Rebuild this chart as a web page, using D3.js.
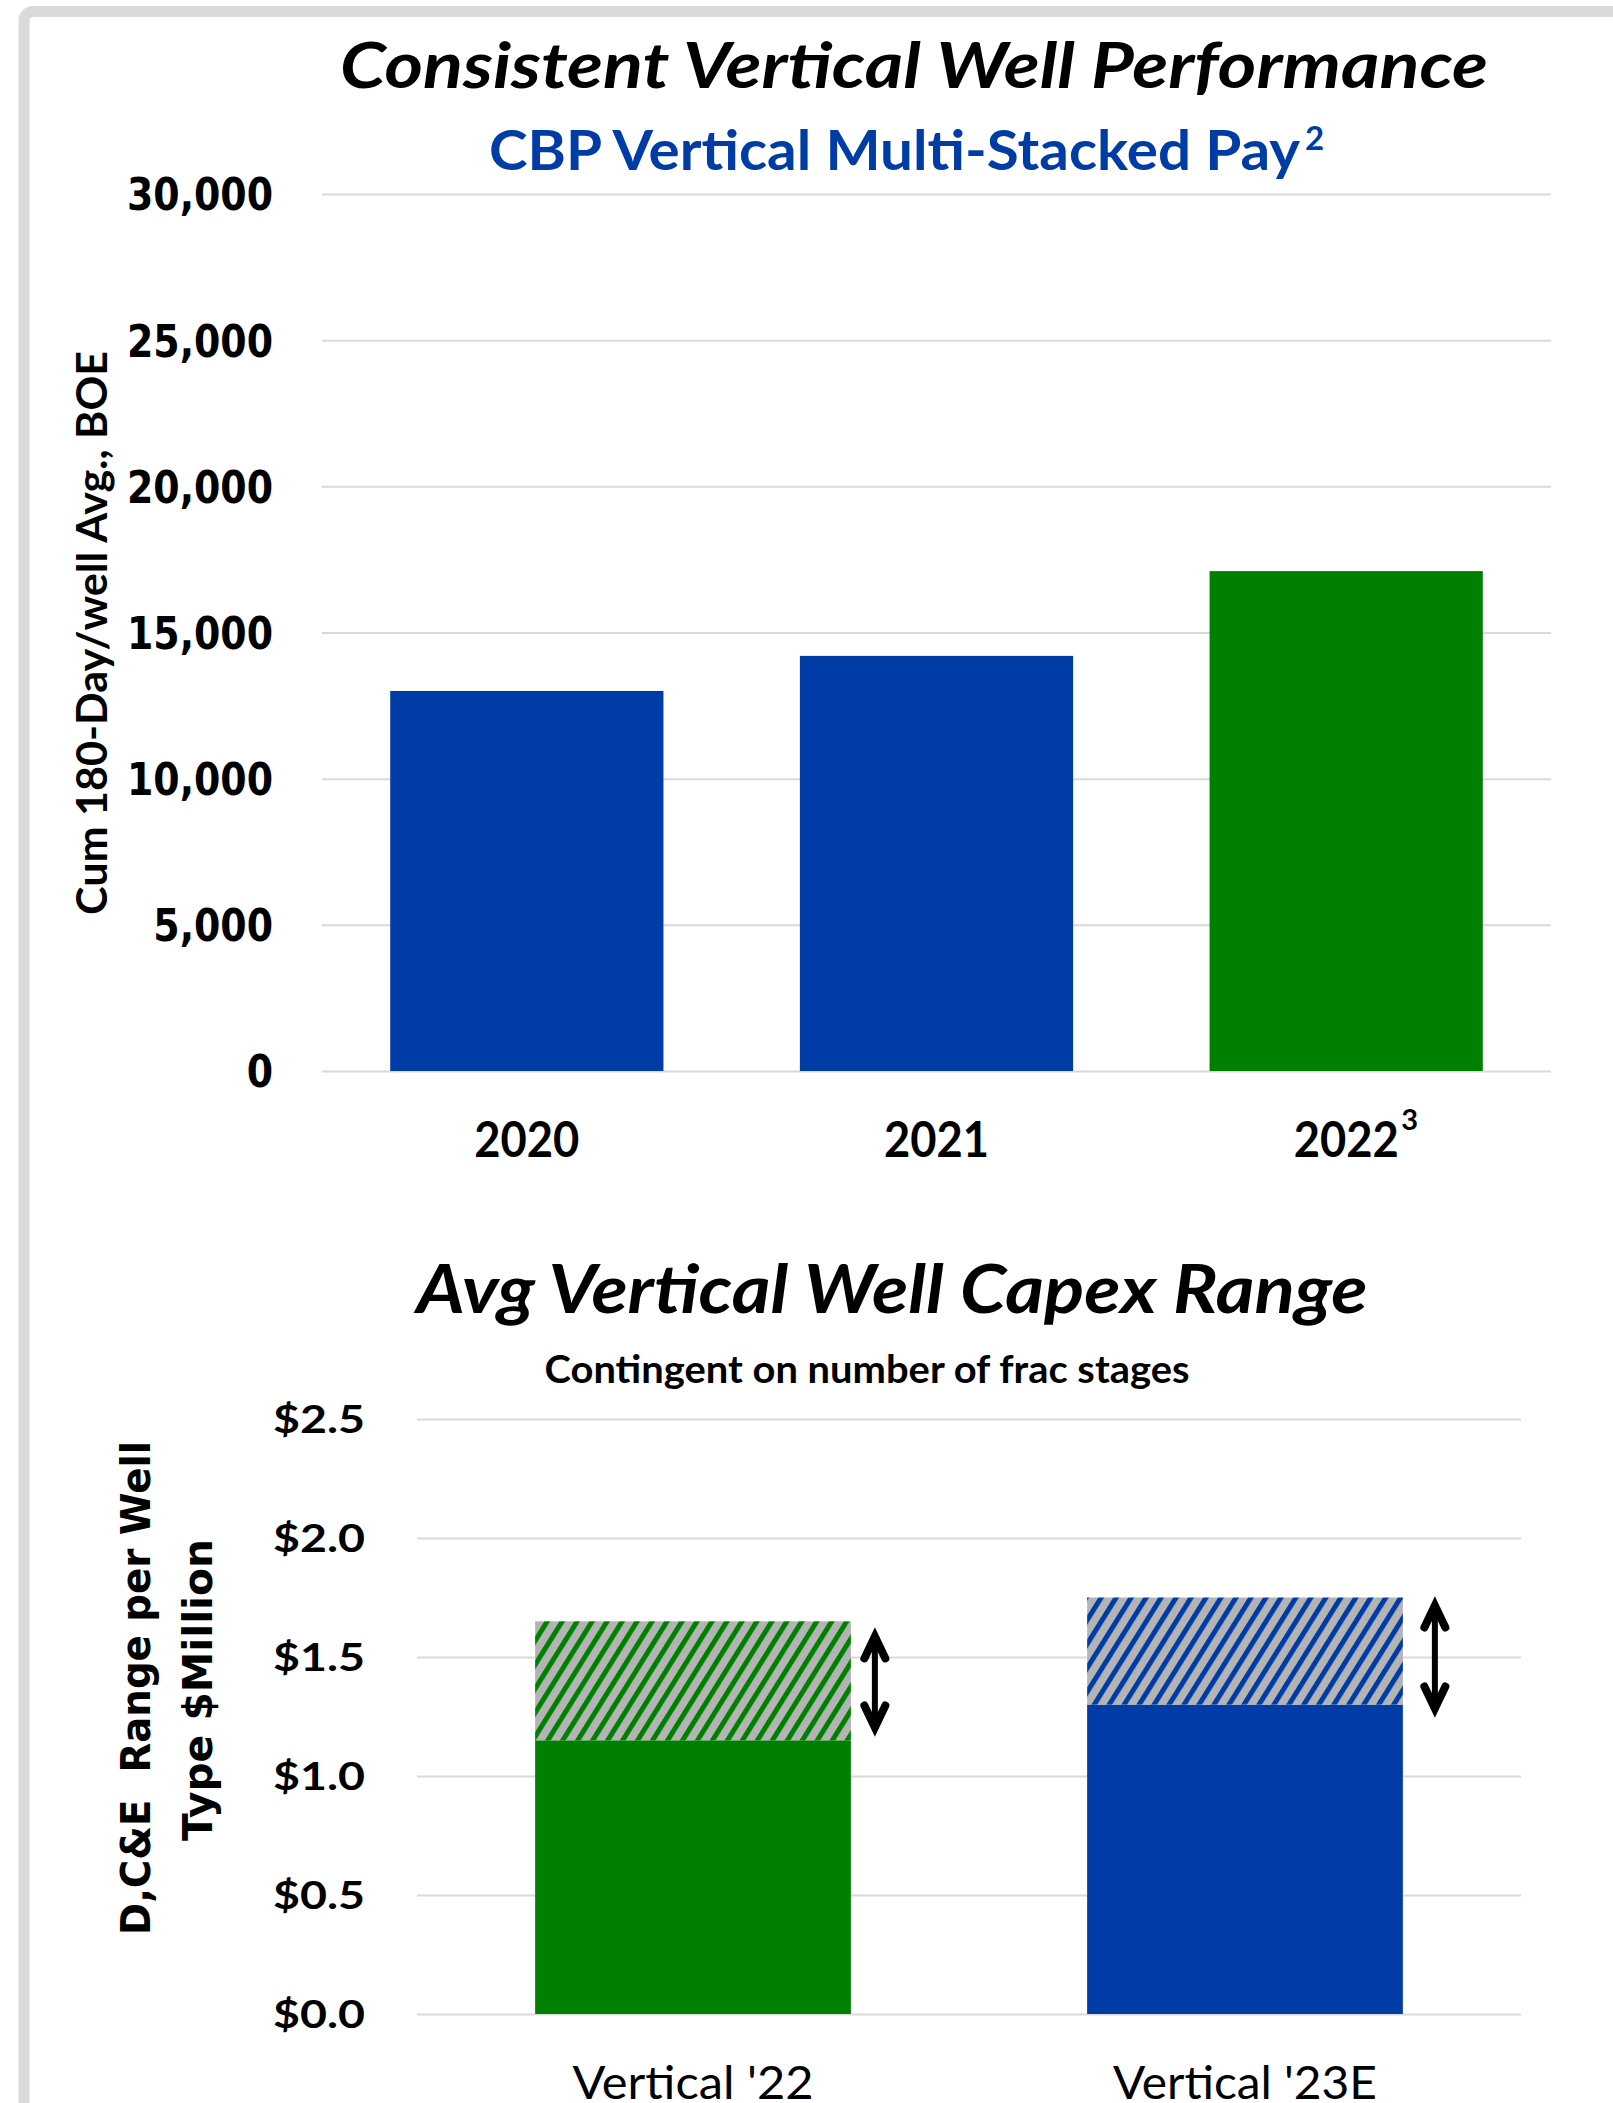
<!DOCTYPE html>
<html><head><meta charset="utf-8">
<script src="https://cdn.jsdelivr.net/npm/d3@7"></script>
<style>body{margin:0;background:#fff;} svg{display:block;} text{white-space:pre;}</style>
</head><body><svg id="c" width="1613" height="2103"></svg>
<script>
// ---- data ----
const years = ["2020", "2021", "2022"];
const yearSup = ["", "", "3"];
const boe = [13000, 14200, 17100];
const boeColors = ["#003CA6", "#003CA6", "#008000"];
const boeTicks = [0, 5000, 10000, 15000, 20000, 25000, 30000];

const wellTypes = ["Vertical '22", "Vertical '23E"];
const capexLow = [1.15, 1.30];
const capexHigh = [1.65, 1.75];
const capexColors = ["#008000", "#003CA6"];
const arrowTop = [1.62, 1.75];
const arrowBottom = [1.17, 1.25];
const capexTicks = [0, 0.5, 1.0, 1.5, 2.0, 2.5];

const BLUE = "#003CA6", GRID = "#d9d9d9", HATCH_BG = "#b4b4b4";
const CAL = "Lato, 'Open Sans', sans-serif";
const VER = "'DejaVu Sans', Verdana, sans-serif";

const svg = d3.select("#c");

// frame
svg.append("rect").attr("x", 24).attr("y", 11.5).attr("width", 1800).attr("height", 2300)
  .attr("rx", 9).attr("fill", "none").attr("stroke", "#dadada").attr("stroke-width", 11);

function fit(sel, w) { return sel.attr("textLength", w).attr("lengthAdjust", "spacingAndGlyphs"); }
function condense(sel, k) {
  sel.each(function () {
    const L = this.getComputedTextLength();
    d3.select(this).attr("textLength", L * k).attr("lengthAdjust", "spacingAndGlyphs");
  });
}

// ---- top chart ----
const x1 = d3.scaleBand().domain(years).range([322, 1551]).paddingInner(0.333).paddingOuter(0.1665);
const y1 = d3.scaleLinear().domain([0, 30000]).range([1071, 194]);

const g1 = svg.append("g");
const ax1 = g1.append("g").attr("transform", "translate(322,0)")
  .call(d3.axisLeft(y1).tickValues(boeTicks).tickSize(-(1551 - 322)).tickPadding(49).tickFormat(d3.format(",")));
ax1.select(".domain").remove();
ax1.selectAll(".tick line").attr("stroke", GRID).attr("stroke-width", 2);
ax1.selectAll(".tick text").attr("font-family", VER).attr("font-weight", "bold")
  .attr("font-size", 44).attr("fill", "#000").attr("dy", "0.36em").call(condense, 0.86);

g1.selectAll("rect.bar").data(years).join("rect").attr("class", "bar")
  .attr("x", d => x1(d)).attr("width", x1.bandwidth())
  .attr("y", (d, i) => y1(boe[i])).attr("height", (d, i) => y1(0) - y1(boe[i]))
  .attr("fill", (d, i) => boeColors[i]);

g1.selectAll("text.xl").data(years).join("text").attr("class", "xl")
  .attr("x", d => x1(d) + x1.bandwidth() / 2).attr("y", 1157)
  .attr("text-anchor", "middle").attr("font-family", CAL).attr("font-weight", "bold")
  .attr("font-size", 49).text(d => d).call(fit, 105);
g1.selectAll("text.xs").data(years.filter((d, i) => yearSup[i])).join("text").attr("class", "xs")
  .attr("x", d => x1(d) + x1.bandwidth() / 2 + 55).attr("y", 1130)
  .attr("font-family", CAL).attr("font-weight", "bold").attr("font-size", 29)
  .text(d => yearSup[years.indexOf(d)]);

svg.append("text").attr("transform", "translate(107,633) rotate(-90)")
  .attr("text-anchor", "middle").attr("font-family", CAL).attr("font-weight", "bold")
  .attr("font-size", 42).text("Cum 180-Day/well Avg., BOE").call(fit, 564);

svg.append("text").attr("x", 914).attr("y", 88).attr("text-anchor", "middle")
  .attr("font-family", CAL).attr("font-weight", "bold").attr("font-style", "italic")
  .attr("font-size", 64).text("Consistent Vertical Well Performance").call(fit, 1148);
svg.append("text").attr("x", 489).attr("y", 170)
  .attr("font-family", CAL).attr("font-weight", "bold").attr("fill", BLUE)
  .attr("font-size", 56).text("CBP Vertical Multi-Stacked Pay").call(fit, 811);
svg.append("text").attr("x", 1305).attr("y", 150)
  .attr("font-family", CAL).attr("font-weight", "bold").attr("fill", BLUE)
  .attr("font-size", 33).text("2");

// ---- bottom chart ----
const x2 = d3.scaleBand().domain(wellTypes).range([417, 1521]).paddingInner(0.428).paddingOuter(0.214);
const y2 = d3.scaleLinear().domain([0, 2.5]).range([2014, 1419]);

const defs = svg.append("defs");
capexColors.forEach((c, i) => {
  const p = defs.append("pattern").attr("id", "hatch" + i).attr("patternUnits", "userSpaceOnUse")
    .attr("width", 12.7).attr("height", 12.7).attr("patternTransform", "rotate(32)");
  p.append("rect").attr("width", 12.7).attr("height", 12.7).attr("fill", HATCH_BG);
  p.append("rect").attr("width", 5).attr("height", 12.7).attr("fill", c);
});

const g2 = svg.append("g");
const ax2 = g2.append("g").attr("transform", "translate(417,0)")
  .call(d3.axisLeft(y2).tickValues(capexTicks).tickSize(-(1521 - 417)).tickPadding(52)
    .tickFormat(d => "$" + d3.format(".1f")(d)));
ax2.select(".domain").remove();
ax2.selectAll(".tick line").attr("stroke", GRID).attr("stroke-width", 2);
ax2.selectAll(".tick text").attr("font-family", CAL).attr("font-weight", "bold")
  .attr("font-size", 38).attr("fill", "#000").attr("dy", "0.36em").call(fit, 92);

g2.selectAll("rect.low").data(wellTypes).join("rect").attr("class", "low")
  .attr("x", d => x2(d)).attr("width", x2.bandwidth())
  .attr("y", (d, i) => y2(capexLow[i])).attr("height", (d, i) => y2(0) - y2(capexLow[i]))
  .attr("fill", (d, i) => capexColors[i]);
g2.selectAll("rect.high").data(wellTypes).join("rect").attr("class", "high")
  .attr("x", d => x2(d)).attr("width", x2.bandwidth())
  .attr("y", (d, i) => y2(capexHigh[i])).attr("height", (d, i) => y2(capexLow[i]) - y2(capexHigh[i]))
  .attr("fill", (d, i) => `url(#hatch${i})`);

// arrows
const arrowOffset = [24, 32];
wellTypes.forEach((d, i) => {
  const ax = x2(d) + x2.bandwidth() + arrowOffset[i];
  const t = y2(arrowTop[i]), b = y2(arrowBottom[i]);
  const ga = g2.append("g").attr("transform", `translate(${ax},0)`);
  ga.append("line").attr("x1", 0).attr("x2", 0).attr("y1", t + 8).attr("y2", b - 8)
    .attr("stroke", "#000").attr("stroke-width", 6);
  ga.append("path").attr("d", `M-10.5,${t + 30} L0,${t + 8} L10.5,${t + 30}`)
    .attr("fill", "none").attr("stroke", "#000").attr("stroke-width", 8)
    .attr("stroke-linecap", "round").attr("stroke-linejoin", "miter");
  ga.append("path").attr("d", `M-10.5,${b - 30} L0,${b - 8} L10.5,${b - 30}`)
    .attr("fill", "none").attr("stroke", "#000").attr("stroke-width", 8)
    .attr("stroke-linecap", "round").attr("stroke-linejoin", "miter");
});

const xlw = [241, 264];
g2.selectAll("text.xl").data(wellTypes).join("text").attr("class", "xl")
  .attr("x", d => x2(d) + x2.bandwidth() / 2).attr("y", 2099)
  .attr("text-anchor", "middle").attr("font-family", CAL).attr("font-size", 47)
  .text(d => d).each(function (d, i) { fit(d3.select(this), xlw[i]); });

svg.append("text").attr("transform", "translate(150,1688) rotate(-90)")
  .attr("text-anchor", "middle").attr("font-family", VER).attr("font-weight", "bold")
  .attr("font-size", 41).text("D,C&E  Range per Well").call(fit, 494);
svg.append("text").attr("transform", "translate(212,1690) rotate(-90)")
  .attr("text-anchor", "middle").attr("font-family", VER).attr("font-weight", "bold")
  .attr("font-size", 41).text("Type $Million").call(fit, 302);

svg.append("text").attr("x", 892).attr("y", 1313).attr("text-anchor", "middle")
  .attr("font-family", CAL).attr("font-weight", "bold").attr("font-style", "italic")
  .attr("font-size", 67).text("Avg Vertical Well Capex Range").call(fit, 951);
svg.append("text").attr("x", 867).attr("y", 1383).attr("text-anchor", "middle")
  .attr("font-family", CAL).attr("font-weight", "bold")
  .attr("font-size", 39).text("Contingent on number of frac stages").call(fit, 645);
</script></body></html>
